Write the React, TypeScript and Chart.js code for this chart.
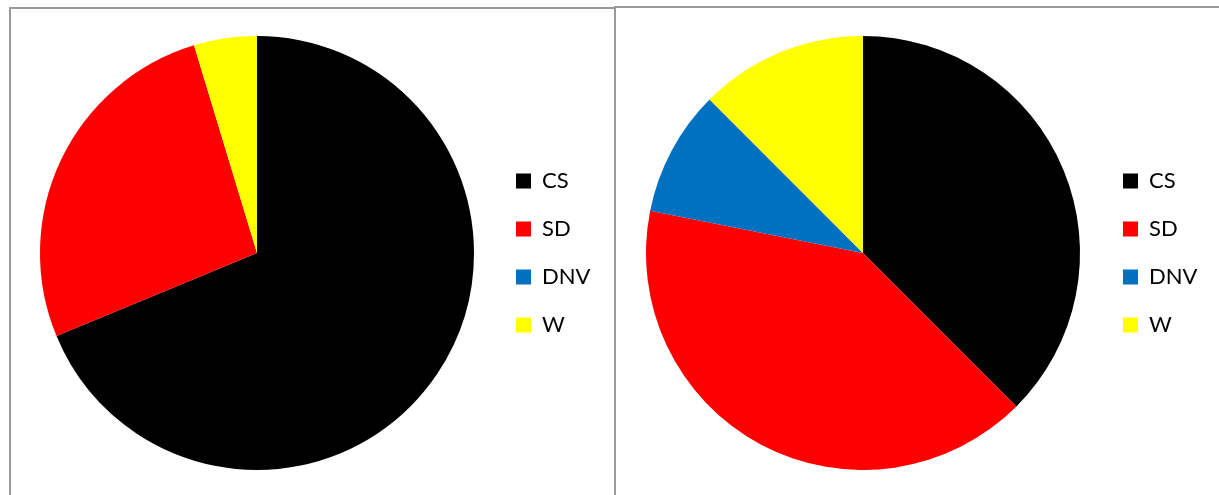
import React, { useEffect, useRef } from "react";
import { Chart, registerables } from "chart.js";

Chart.register(...registerables);

const categories = ["CS", "SD", "DNV", "W"];
const leftValues = [44, 17, 0, 3];
const rightValues = [12, 13, 3, 4];
const sliceColors = ["#000000", "#FF0000", "#0070C0", "#FFFF00"];

const FONT_FAMILY = "Lato, 'Open Sans', sans-serif";
const FONT_SIZE = 22;
const LABEL_PAD = 26;
const BOX = 15;

type PieProps = {
  values: number[];
  left: number;
  top: number;
  width: number;
  height: number;
  padLeft: number;
  legendLeft: number; // relative to canvas
};

function PieChart({ values, left, top, width, height, padLeft, legendLeft }: PieProps) {
  const ref = useRef<HTMLCanvasElement | null>(null);
  useEffect(() => {
    const canvas = ref.current;
    if (!canvas) return;
    const mctx = document.createElement("canvas").getContext("2d")!;
    mctx.font = `${FONT_SIZE}px ${FONT_FAMILY}`;
    let maxW = 0;
    categories.forEach((c) => {
      maxW = Math.max(maxW, mctx.measureText(c).width);
    });
    // Chart.js vertical legend width = padding + box + size/2 + text + 10
    const legendW = LABEL_PAD + BOX + FONT_SIZE / 2 + maxW + 10;
    const padRight = Math.max(0, width - legendLeft - legendW);
    const chart = new Chart(canvas, {
      type: "pie",
      data: {
        labels: categories,
        datasets: [
          {
            data: values,
            backgroundColor: sliceColors,
            borderWidth: 0,
          },
        ],
      },
      options: {
        responsive: false,
        animation: false,
        devicePixelRatio: 1,
        layout: { padding: { left: padLeft, right: padRight, top: 0, bottom: 0 } },
        plugins: {
          tooltip: { enabled: false },
          legend: {
            position: "right",
            align: "center",
            labels: {
              boxWidth: BOX,
              boxHeight: BOX,
              padding: LABEL_PAD,
              color: "#000000",
              font: { family: FONT_FAMILY, size: FONT_SIZE },
            },
          },
        },
      },
    });
    return () => chart.destroy();
  }, [values, width, height, padLeft, legendLeft]);
  return (
    <canvas
      ref={ref}
      width={width}
      height={height}
      style={{ position: "absolute", left, top, width, height }}
    />
  );
}

export default function App() {
  return (
    <div
      style={{
        position: "absolute",
        left: 0,
        top: 0,
        width: 1219,
        height: 495,
        overflow: "hidden",
        background: "#ffffff",
      }}
    >
      <div
        style={{
          position: "absolute",
          left: 9,
          top: 7,
          width: 603,
          height: 520,
          border: "2px solid #9a9a9a",
          boxSizing: "content-box",
        }}
      />
      <div
        style={{
          position: "absolute",
          left: 614,
          top: 6,
          width: 700,
          height: 520,
          border: "2px solid #9a9a9a",
        }}
      />
      <PieChart
        values={leftValues}
        left={12}
        top={36}
        width={600}
        height={434}
        padLeft={12}
        legendLeft={478}
      />
      <PieChart
        values={rightValues}
        left={617}
        top={36}
        width={602}
        height={434}
        padLeft={12}
        legendLeft={480}
      />
    </div>
  );
}
